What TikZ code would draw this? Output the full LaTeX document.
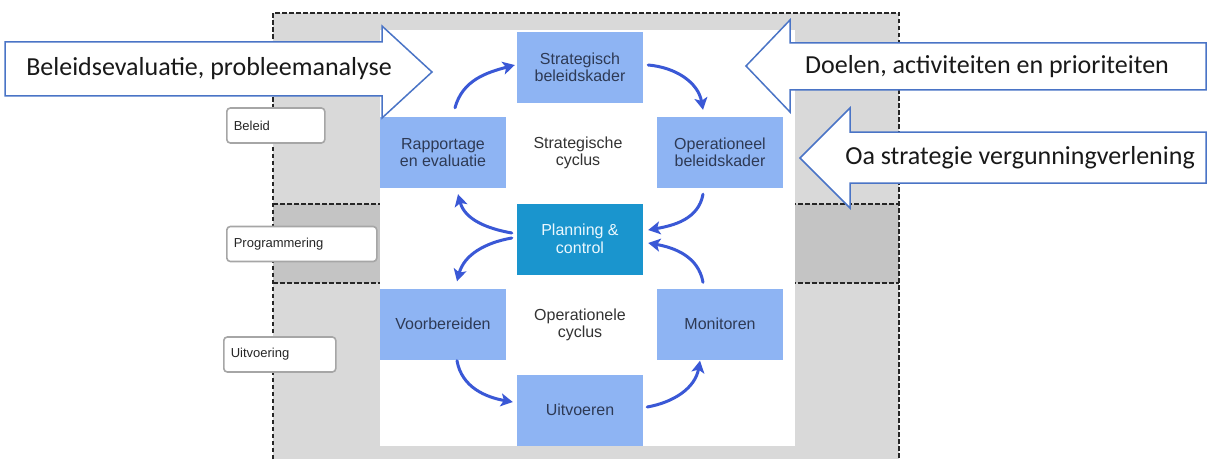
\documentclass[tikz,border=0pt]{standalone}
\usepackage{fontspec}
\setmainfont{Liberation Sans}
\newfontfamily\calib{Carlito}
\usetikzlibrary{arrows.meta,calc}
\definecolor{lightgrey}{HTML}{D9D9D9}
\definecolor{midgrey}{HTML}{C4C4C4}
\definecolor{boxblue}{HTML}{8EB4F3}
\definecolor{plancol}{HTML}{1A95CE}
\definecolor{txtnavy}{HTML}{2E3A55}
\definecolor{arrowline}{HTML}{4A74C6}
\definecolor{cycblue}{HTML}{3A58D6}
\begin{document}
\begin{tikzpicture}[x=1pt,y=1pt,
  cyclebox/.style={fill=boxblue, minimum width=126pt, minimum height=71pt, inner sep=0pt,
    align=center, font=\fontsize{16}{17.5}\selectfont, text=txtnavy},
  plannode/.style={cyclebox, fill=plancol, text=white!92!cyan},
  cyctext/.style={align=center, font=\fontsize{16}{17.5}\selectfont, text=black!80},
  labelbox/.style={draw=gray!70, line width=1.6pt, rounded corners=3.5pt, fill=white,
    minimum height=35pt, inner xsep=7pt, inner ysep=0pt, align=left, anchor=west,
    font=\fontsize{13}{15}\selectfont, text=black!85},
  dashline/.style={draw=black!85, line width=1.3pt, dash pattern=on 4.5pt off 2.5pt},
  bigarrow/.style={draw=arrowline, fill=white, line width=1.5pt, line join=miter},
  bigtext/.style={font=\calib\fontsize{26}{28}\selectfont, text=black!90},
  cycarrow/.style={draw=cycblue, line width=3pt, line cap=round,
    -{Stealth[length=12pt,width=13pt,inset=3pt]}}
]
\useasboundingbox (0,0) rectangle (1208,459);
% grey background bands
\fill[lightgrey] (273,0) rectangle (899,446);
\fill[midgrey] (273,176) rectangle (899,255);
\draw[dashline] (273,0) -- (273,446) -- (899,446) -- (899,0);
\draw[dashline] (273,255) -- (899,255);
\draw[dashline] (273,176) -- (899,176);
% white panel
\fill[white] (380,13) rectangle (795,429);

% level labels
\node[labelbox, text width=84pt] (lbeleid) at (226,333.5) {Beleid};
\node[labelbox, text width=136pt] (lprog) at (226,215) {Programmering};
\node[labelbox, text width=98pt] (luitv) at (223,104.5) {Uitvoering};

% cycle boxes
\node[cyclebox] (strat) at (580,391.5) {Strategisch\\beleidskader};
\node[cyclebox] (rap) at (443,306.5) {Rapportage\\en evaluatie};
\node[cyclebox] (oper) at (720,306.5) {Operationeel\\beleidskader};
\node[plannode] (plan) at (580,220) {Planning \&\\control};
\node[cyclebox] (voor) at (443,135) {Voorbereiden};
\node[cyclebox] (mon) at (720,135) {Monitoren};
\node[cyclebox] (uit) at (580,49) {Uitvoeren};
\node[cyctext] (stratcyc) at (578,306) {Strategische\\cyclus};
\node[cyctext] (opcyc) at (580,134) {Operationele\\cyclus};

% cycle arrows
\draw[cycarrow] ([shift={(12,9)}]rap.north) to[out=75,in=195] ([shift={(-2,2.5)}]strat.west);
\draw[cycarrow] ([shift={(5,2.5)}]strat.east) to[out=-5,in=100] ([shift={(-17,7)}]oper.north);
\draw[cycarrow] ([shift={(-17,-6)}]oper.south) to[out=-100,in=10] ([shift={(5,9)}]plan.east);
\draw[cycarrow] ([shift={(-17,6)}]mon.north) to[out=100,in=-10] ([shift={(5,-4)}]plan.east);
\draw[cycarrow] ([shift={(-5,6)}]plan.west) to[out=170,in=-75] ([shift={(15,-6)}]rap.south);
\draw[cycarrow] ([shift={(-5,1)}]plan.west) to[out=190,in=75] ([shift={(14,7)}]voor.north);
\draw[cycarrow] ([shift={(14,-1)}]voor.south) to[out=-80,in=170] ([shift={(-4,8)}]uit.west);
\draw[cycarrow] ([shift={(4,3)}]uit.east) to[out=10,in=-100] ([shift={(-20,-1)}]mon.south);

% big block arrows
\draw[bigarrow] (5,417) -- (382,417) -- (382,433) -- (432,387) -- (382,341) -- (382,363) -- (5,363) -- cycle;
\node[bigtext] (tleft) at (209,390) {Beleidsevaluatie, probleemanalyse};
\draw[bigarrow] (1206,416) -- (790,416) -- (790,439) -- (746,393) -- (790,347) -- (790,369) -- (1206,369) -- cycle;
\node[bigtext] (tright) at (987,392.5) {Doelen, activiteiten en prioriteiten};
\draw[bigarrow] (1206,327) -- (850,327) -- (850,351) -- (800,301) -- (850,251) -- (850,276) -- (1206,276) -- cycle;
\node[bigtext] (tvergun) at (1020,301) {Oa strategie vergunningverlening};
\end{tikzpicture}
\end{document}
